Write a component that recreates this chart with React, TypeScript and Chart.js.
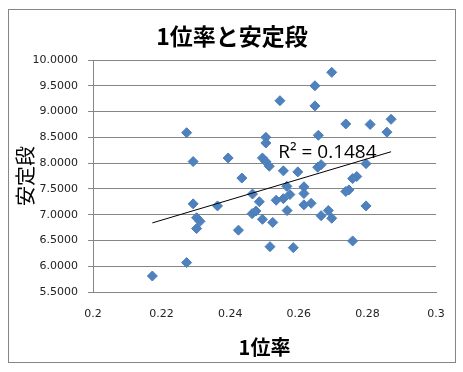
import React, { useEffect, useRef } from "react";
import { Chart, registerables } from "chart.js";

Chart.register(...registerables);

// 1位率 (x) and 安定段 (y) for each player
const firstRate = [
  0.2173, 0.2273, 0.2273, 0.2292, 0.2292, 0.2302, 0.2312, 0.2302, 0.2363, 0.2394,
  0.2424, 0.2434, 0.2465, 0.2485, 0.2464, 0.2475, 0.2494, 0.2516, 0.2504, 0.2504,
  0.2494, 0.2504, 0.2514, 0.2524, 0.2545, 0.2555, 0.2597, 0.2565, 0.2615, 0.2615,
  0.2574, 0.2555, 0.2534, 0.2566, 0.2615, 0.2636, 0.2584, 0.2647, 0.2647, 0.2696,
  0.2657, 0.2655, 0.2665, 0.2665, 0.2686, 0.2696, 0.2737, 0.2808, 0.2869, 0.2857,
  0.2796, 0.2769, 0.2757, 0.2746, 0.2737, 0.2796, 0.2757,
];
const stableDan = [
  5.81, 6.07, 8.59, 8.03, 7.21, 6.94, 6.87, 6.73, 7.17, 8.10,
  6.70, 7.71, 7.40, 7.25, 7.02, 7.07, 6.91, 6.38, 8.50, 8.39,
  8.10, 8.03, 7.94, 6.85, 9.21, 7.85, 7.83, 7.55, 7.54, 7.41,
  7.39, 7.31, 7.28, 7.08, 7.19, 7.22, 6.36, 9.50, 9.11, 9.76,
  8.54, 7.92, 7.97, 6.98, 7.08, 6.93, 8.76, 8.75, 8.85, 8.60,
  7.99, 7.74, 7.70, 7.48, 7.45, 7.17, 6.49,
];

const chartTitle = "1位率と安定段";
const xTitle = "1位率";
const yTitle = "安定段";
const r2Label = "R² = 0.1484";
const r2Anchor = [0.254, 8.1];

const xMin = 0.2, xMax = 0.3, xStep = 0.02;
const yMin = 5.5, yMax = 10, yStep = 0.5;

const GRID = "#868686";
const POINT = "#4F81BD";

function linearFit(xs: number[], ys: number[]) {
  const n = xs.length;
  let sx = 0, sy = 0, sxx = 0, sxy = 0;
  for (let i = 0; i < n; i++) {
    sx += xs[i]; sy += ys[i]; sxx += xs[i] * xs[i]; sxy += xs[i] * ys[i];
  }
  const slope = (n * sxy - sx * sy) / (n * sxx - sx * sx);
  const icpt = (sy - slope * sx) / n;
  return { slope, icpt };
}

export default function App() {
  const ref = useRef<HTMLCanvasElement>(null);

  useEffect(() => {
    const canvas = ref.current;
    if (!canvas) return;
    const pts = firstRate.map((x, i) => ({ x, y: stableDan[i] }));
    const { slope, icpt } = linearFit(firstRate, stableDan);
    const lo = Math.min(...firstRate);
    const hi = Math.max(...firstRate);
    const trend = [
      { x: lo, y: icpt + slope * lo },
      { x: hi, y: icpt + slope * hi },
    ];

    const framePlugin = {
      id: "frame",
      beforeDraw(chart: any) {
        const ctx = chart.ctx;
        ctx.save();
        ctx.fillStyle = "#ffffff";
        ctx.fillRect(0, 0, chart.width, chart.height);
        ctx.strokeStyle = GRID;
        ctx.lineWidth = 1;
        ctx.strokeRect(8.5, 9.5, 447, 353);
        ctx.font = 'bold 23px "Noto Sans CJK JP", sans-serif';
        ctx.fillStyle = "#000";
        ctx.textAlign = "center";
        ctx.textBaseline = "middle";
        ctx.fillText(chartTitle, 232, 36);
        ctx.restore();
      },
      afterDatasetsDraw(chart: any) {
        const ctx = chart.ctx;
        const xs = chart.scales.x;
        const ys = chart.scales.y;
        ctx.save();
        ctx.font = '19px "Open Sans", "Noto Sans", sans-serif';
        ctx.fillStyle = "#000";
        ctx.textAlign = "left";
        ctx.textBaseline = "alphabetic";
        ctx.fillText(r2Label, xs.getPixelForValue(r2Anchor[0]), ys.getPixelForValue(r2Anchor[1]));
        ctx.restore();
      },
    };

    const tickFont = { family: '"DejaVu Sans", sans-serif', size: 11 };

    const chart = new Chart(canvas, {
      type: "scatter",
      data: {
        datasets: [
          {
            label: "trend",
            data: trend,
            showLine: true,
            borderColor: "#000",
            borderWidth: 1,
            pointRadius: 0,
            fill: false,
          },
          {
            label: yTitle,
            data: pts,
            pointStyle: "rectRot",
            pointRadius: 5,
            backgroundColor: POINT,
            borderColor: "#4A7EBB",
            borderWidth: 1,
          },
        ],
      },
      options: {
        responsive: false,
        animation: false,
        layout: { padding: { left: 0, top: 60, right: 27, bottom: 0 } },
        plugins: {
          legend: { display: false },
          tooltip: { enabled: false },
          title: { display: false },
        },
        scales: {
          x: {
            type: "linear",
            min: xMin,
            max: xMax,
            afterFit: (s: any) => { s.height = 80; },
            ticks: {
              stepSize: xStep,
              color: "#222",
              font: tickFont,
              padding: 16,
              callback: (v: any) => String(Number(Number(v).toFixed(2))),
            },
            grid: { drawOnChartArea: false, drawTicks: false, color: GRID },
            border: { display: true, color: GRID, width: 1 },
            title: {
              display: true,
              text: xTitle,
              color: "#000",
              font: { family: '"Noto Sans CJK JP", sans-serif', size: 20, weight: "bold" },
              padding: { top: 13, bottom: 13 },
            },
          },
          y: {
            type: "linear",
            min: yMin,
            max: yMax,
            afterFit: (s: any) => { s.width = 93; },
            ticks: {
              stepSize: yStep,
              color: "#222",
              font: tickFont,
              padding: 10,
              callback: (v: any) => Number(v).toFixed(4),
            },
            grid: { color: GRID, lineWidth: 1, tickLength: 5, drawTicks: true },
            border: { display: true, color: GRID, width: 1 },
            title: {
              display: true,
              text: yTitle,
              color: "#000",
              font: { family: '"Noto Sans CJK JP", sans-serif', size: 20, weight: "normal" },
              padding: { top: 13, bottom: 13 },
            },
          },
        },
      },
      plugins: [framePlugin],
    } as any);

    return () => chart.destroy();
  }, []);

  return (
    <div style={{ position: "fixed", left: 0, top: 0, width: 463, height: 372, background: "#fff" }}>
      <canvas ref={ref} width={463} height={372} style={{ display: "block" }} />
    </div>
  );
}
